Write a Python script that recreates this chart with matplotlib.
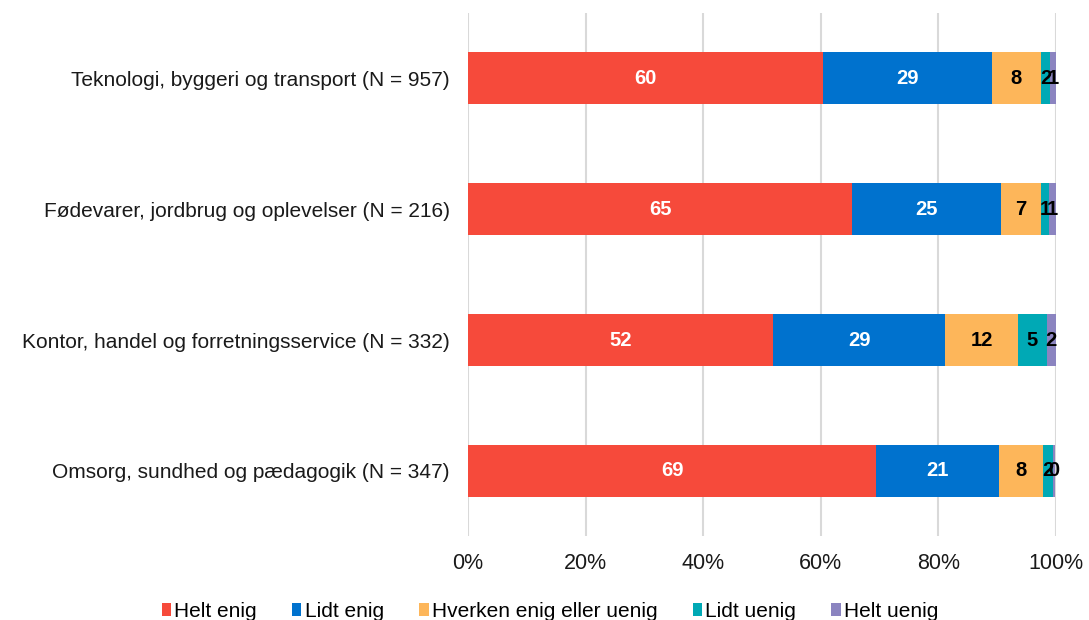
import numpy as np
import matplotlib.pyplot as plt
from matplotlib.patches import Patch

plt.rcParams['font.family'] = ['Liberation Sans', 'DejaVu Sans']

categories = ['Teknologi, byggeri og transport (N = 957)',
              'Fødevarer, jordbrug og oplevelser (N = 216)',
              'Kontor, handel og forretningsservice (N = 332)',
              'Omsorg, sundhed og pædagogik (N = 347)']
series = ['Helt enig', 'Lidt enig', 'Hverken enig eller uenig', 'Lidt uenig', 'Helt uenig']

# shares in percent, one list per answer category (rows follow categories)
helt_enig = [60.4, 65.3, 51.9, 69.4]
lidt_enig = [28.7, 25.3, 29.3, 20.9]
hverken = [8.3, 6.8, 12.4, 7.5]
lidt_uenig = [1.6, 1.4, 4.8, 1.7]
helt_uenig = [1.0, 1.2, 1.6, 0.4]

colors = ['#F64A3B', '#0072CE', '#FDB65A', '#00A9B5', '#8B84C0']
text_colors = ['white', 'white', 'black', 'black', 'black']

values = [helt_enig, lidt_enig, hverken, lidt_uenig, helt_uenig]

fig = plt.figure(figsize=(10.89, 6.2), dpi=100)
ax = fig.add_axes([0.4298, 0.1347, 0.5399, 0.845])

y = np.arange(len(categories))
left = np.zeros(len(categories))
for vals, col, tcol in zip(values, colors, text_colors):
    vals = np.array(vals)
    ax.barh(y, vals, left=left, height=0.4, color=col, zorder=3)
    for yi, l, v in zip(y, left, vals):
        ax.text(l + v / 2, yi, f'{int(round(v))}', ha='center', va='center',
                color=tcol, fontsize=14.5, fontweight='bold', zorder=4)
    left += vals

ax.set_xlim(0, 100)
ax.set_ylim(len(categories) - 0.5, -0.5)
ax.set_yticks(y)
ax.set_yticklabels(categories, fontsize=15, color='#1a1a1a')
ax.set_xticks(np.arange(0, 101, 20))
ax.set_xticklabels([f'{t}%' for t in range(0, 101, 20)], fontsize=15.5, color='#1a1a1a')
ax.tick_params(axis='both', length=0)
ax.tick_params(axis='y', pad=13)
ax.tick_params(axis='x', pad=12)
ax.grid(axis='x', color='#D9D9D9', linewidth=1.5, zorder=0)
for s in ax.spines.values():
    s.set_visible(False)

handles = [Patch(facecolor=c, edgecolor='none') for c in colors]
fig.legend(handles, series, loc='lower center', bbox_to_anchor=(0.505, -0.032), ncol=5,
           frameon=False, fontsize=15, handlelength=0.45, handleheight=0.55,
           handletextpad=0.15, columnspacing=1.7)

fig.savefig('out.png', dpi=100)
